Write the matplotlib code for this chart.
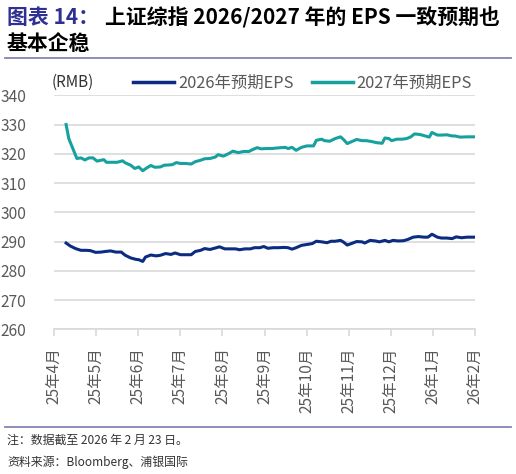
import numpy as np
import matplotlib
matplotlib.use("Agg")
import matplotlib.pyplot as plt
from matplotlib.lines import Line2D

plt.rcParams['font.family'] = ['Noto Sans CJK SC', 'DejaVu Sans']

# x = days since axis start (2025-04-16 .. 2026-02-23)
eps27_day = [9, 11, 14, 17, 20, 23, 26, 29, 32, 35, 37, 39, 43, 47, 51, 53, 57, 60, 63, 66,
             69, 72, 75, 79, 82, 86, 88, 91, 94, 98, 102, 105,
             109, 112, 116, 120, 122, 126, 130, 133, 137, 141, 145, 147, 151, 154, 158, 162,
             166, 169, 172, 174, 177, 180, 184, 188, 193, 195, 199, 201, 205,
             209, 213, 215, 218, 221, 225, 229, 232, 236, 240, 244, 246, 249, 251, 255, 259,
             262, 265, 268, 272, 276, 279, 281, 285, 288, 292, 296, 298, 302, 307, 313]
eps27 = [330.0, 325.2, 321.8, 318.4, 318.6, 317.9, 318.6, 318.6, 317.5, 317.8, 318.0, 317.1,
         317.1, 317.1, 317.6, 316.9, 316.1, 315.0, 315.5, 314.2, 315.2, 316.0, 315.4, 315.5,
         316.1, 316.2, 316.3, 317.0, 316.7, 316.7, 316.5, 317.3,
         317.8, 318.3, 318.4, 318.9, 319.7, 319.2, 320.1, 320.9, 320.4, 320.8, 320.8, 321.3,
         322.1, 321.7, 321.8, 321.8, 322.0, 322.1, 322.2, 321.8, 322.2, 321.2, 322.2, 322.7,
         322.7, 324.6, 325.0, 324.5, 324.3,
         325.2, 325.8, 325.0, 323.5, 324.1, 324.9, 324.5, 324.5, 324.2, 323.8, 323.6, 325.4,
         325.2, 324.5, 325.0, 325.0, 325.2, 325.7, 326.8, 326.6, 326.1, 325.7, 327.3, 326.4,
         326.4, 326.5, 326.1, 326.1, 325.7, 325.8, 325.8]

eps26_day = [9, 12, 16, 20, 24, 27, 31, 35, 38, 42, 46, 50, 53, 57, 61, 63, 66, 68, 72, 76,
             79, 83, 87, 90, 94, 98, 102, 105,
             109, 112, 116, 120, 123, 127, 131, 135, 138, 142, 146, 149, 153, 156, 159, 163,
             167, 171, 174, 177, 180, 184, 188, 192, 195, 199, 203, 206,
             209, 213, 215, 218, 221, 225, 229, 231, 235, 239, 242, 246, 249, 252, 256, 260,
             263, 267, 271, 275, 278, 281, 285, 288, 292, 296, 299, 303, 307, 313]
eps26 = [289.5, 288.5, 287.6, 287.0, 287.0, 286.9, 286.3, 286.4, 286.6, 286.8, 286.4, 286.4,
         285.3, 284.4, 283.9, 283.8, 283.2, 284.7, 285.4, 285.1, 285.3, 285.9, 285.6, 286.1,
         285.5, 285.5, 285.5, 286.6,
         287.0, 287.6, 287.3, 287.8, 288.2, 287.5, 287.5, 287.5, 287.2, 287.5, 287.5, 287.9,
         287.9, 288.3, 287.7, 287.9, 287.9, 288.0, 287.9, 287.4, 287.9, 288.7, 289.0, 289.3,
         290.1, 289.9, 289.6, 290.1,
         290.1, 290.4, 289.9, 288.8, 289.3, 290.0, 289.9, 289.5, 290.4, 290.2, 289.9, 290.4,
         289.9, 290.4, 290.2, 290.3, 290.7, 291.5, 291.7, 291.5, 291.5, 292.5, 291.5, 291.2,
         291.2, 291.0, 291.6, 291.3, 291.5, 291.5]

month_labels = ['25年4月', '25年5月', '25年6月', '25年7月', '25年8月', '25年9月',
                '25年10月', '25年11月', '25年12月', '26年1月', '26年2月']
total_days = 313

navy = '#0B2C80'
teal = '#16A19E'
gray = '#595959'

fig = plt.figure(figsize=(5.16, 4.74), dpi=100)
ax = fig.add_axes([54 / 516, 1 - 329.3 / 474, 421 / 516, (329.3 - 95.3) / 474])

ax.plot(eps26_day, eps26, color=navy, lw=2.2, solid_joinstyle='round')
ax.plot(eps27_day, eps27, color=teal, lw=2.2, solid_joinstyle='round')

ax.set_xlim(0, total_days)
ax.set_ylim(260, 340)
ax.set_yticks(np.arange(260, 341, 10))
ax.grid(axis='y', color='#D9D9D9', lw=1.2)
ax.set_axisbelow(True)
for s in ['left', 'right', 'top']:
    ax.spines[s].set_visible(False)
ax.spines['bottom'].set_color('#D9D9D9')
ax.spines['bottom'].set_linewidth(1.2)

ax.set_xticks(np.linspace(0, total_days, len(month_labels)))
ax.set_xticklabels(month_labels, rotation=90, va='top', ha='center')
ax.tick_params(axis='x', length=5, width=1.2, color='#D9D9D9', labelsize=11.2,
               labelcolor=gray, pad=8)
ax.tick_params(axis='y', length=0, labelsize=11.2, labelcolor=gray, pad=20)

handles = [Line2D([], [], color=navy, lw=2.5), Line2D([], [], color=teal, lw=2.5)]
ax.legend(handles, ['2026年预期EPS', '2027年预期EPS'], ncol=2, frameon=False,
          loc='center left', bbox_to_anchor=(79 / 421, 1.053), fontsize=11.8,
          labelcolor=gray, handlelength=2.5, handletextpad=0.25, columnspacing=1.1,
          borderpad=0, borderaxespad=0)
fig.text(52 / 516, 1 - 82 / 474, '(RMB)', fontsize=11, color='#333333', va='center')

# title
fig.text(7 / 516, 1 - 18 / 474, '图表 14：', fontsize=15, fontweight='bold',
         color='#2E3192', va='center')
fig.text(105 / 516, 1 - 18 / 474, '上证综指 2026/2027 年的 EPS 一致预期也', fontsize=15,
         fontweight='bold', color='black', va='center')
fig.text(7 / 516, 1 - 43 / 474, '基本企稳', fontsize=15, fontweight='bold',
         color='black', va='center')

fig.add_artist(Line2D([5 / 516, 511 / 516], [1 - 58 / 474, 1 - 58 / 474],
                      color='#8585B5', lw=1.3))
fig.add_artist(Line2D([5 / 516, 511 / 516], [1 - 427 / 474, 1 - 427 / 474],
                      color='#8585B5', lw=1.3))

fig.text(7 / 516, 1 - 440 / 474, '注：数据截至 2026 年 2 月 23 日。', fontsize=8.6,
         color='#333333', va='center')
fig.text(7 / 516, 1 - 462 / 474, '资料来源：Bloomberg、浦银国际', fontsize=8.6,
         color='#333333', va='center')

fig.savefig('out.png', dpi=100)
